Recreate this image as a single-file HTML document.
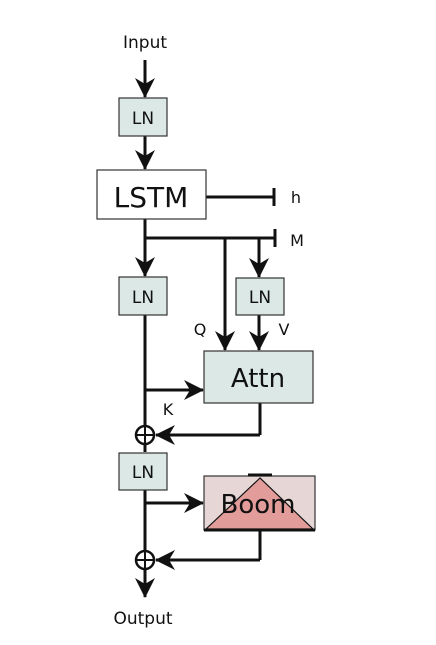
<!DOCTYPE html>
<html><head><style>body{margin:0;background:#fff}</style></head><body>
<svg width="436" height="640" xmlns="http://www.w3.org/2000/svg" font-family="'DejaVu Sans','Liberation Sans',sans-serif">
<defs>
<marker id="b" viewBox="0 0 20 20" markerWidth="20" markerHeight="20" refX="19" refY="10" orient="auto" markerUnits="userSpaceOnUse"><path d="M0,0 L20,10 L0,20 L6,10z" fill="#111"/></marker></defs>
<g stroke="#111" stroke-width="3" fill="none">
<line x1="145" y1="60" x2="145" y2="97" marker-end="url(#b)"/>
<line x1="145" y1="136" x2="145" y2="169" marker-end="url(#b)"/>
<line x1="206" y1="197" x2="273" y2="197"/><line x1="274" y1="188" x2="274" y2="206"/>
<line x1="145" y1="219" x2="145" y2="276" marker-end="url(#b)"/>
<line x1="145" y1="238" x2="274" y2="238"/><line x1="275" y1="229" x2="275" y2="247"/>
<line x1="225" y1="238" x2="225" y2="350" marker-end="url(#b)"/>
<line x1="259" y1="238" x2="259" y2="277" marker-end="url(#b)"/>
<line x1="259" y1="315" x2="259" y2="350" marker-end="url(#b)"/>
<line x1="145" y1="315" x2="145" y2="452"/>
<line x1="145" y1="390" x2="203" y2="390" marker-end="url(#b)"/>
<line x1="260" y1="403" x2="260" y2="435"/><line x1="260" y1="435" x2="156" y2="435" marker-end="url(#b)"/>
<line x1="145" y1="490" x2="145" y2="597" marker-end="url(#b)"/>
<line x1="145" y1="503" x2="203" y2="503" marker-end="url(#b)"/>
<line x1="260" y1="530" x2="260" y2="560"/><line x1="260" y1="560" x2="156" y2="560" marker-end="url(#b)"/>
</g>
<g stroke="#111" stroke-width="2.5" fill="#fff">
<circle cx="145" cy="435" r="9"/><circle cx="145" cy="560" r="9"/>
</g>
<g stroke="#111" stroke-width="2">
<line x1="136" y1="435" x2="154" y2="435"/><line x1="145" y1="426" x2="145" y2="444"/>
<line x1="136" y1="560" x2="154" y2="560"/><line x1="145" y1="551" x2="145" y2="569"/>
</g>
<g stroke="#333" stroke-width="1.2" fill="#dbe8e6">
<rect x="119" y="98" width="48" height="38"/>
<rect x="119" y="277" width="48" height="38"/>
<rect x="236" y="278" width="48" height="37"/>
<rect x="204" y="351" width="109" height="52"/>
<rect x="119" y="453" width="48" height="37"/>
<rect x="97" y="170" width="109" height="49" fill="#fff"/>
<rect x="204" y="476" width="111" height="54" fill="#e6d7d6"/>
</g>
<polygon points="260,478 206,529 313,529" fill="#e29c9a" stroke="#111" stroke-width="1.2"/>
<line x1="248" y1="475" x2="272" y2="475" stroke="#111" stroke-width="3"/>
<line x1="204" y1="530" x2="315" y2="530" stroke="#111" stroke-width="3"/>
<g fill="#111" text-anchor="middle">
<text x="145" y="48" font-size="17">Input</text>
<text x="143" y="124" font-size="17">LN</text>
<text x="143" y="303" font-size="17">LN</text>
<text x="260" y="303" font-size="17">LN</text>
<text x="143" y="478" font-size="17">LN</text>
<text x="151" y="207" font-size="28">LSTM</text>
<text x="258" y="387" font-size="26">Attn</text>
<text x="258" y="513" font-size="26">Boom</text>
<text x="296" y="203" font-size="16">h</text>
<text x="297" y="246" font-size="16">M</text>
<text x="200" y="335" font-size="16">Q</text>
<text x="284" y="335" font-size="16">V</text>
<text x="168" y="415" font-size="16">K</text>
<text x="143" y="624" font-size="17">Output</text>
</g>
</svg>
</body></html>
